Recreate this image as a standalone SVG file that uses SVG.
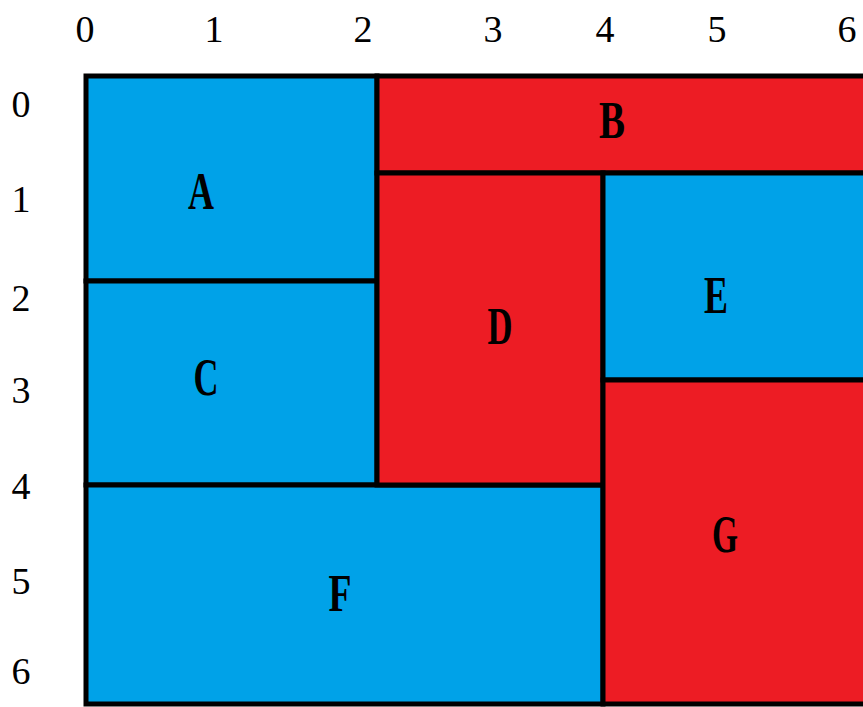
<svg xmlns="http://www.w3.org/2000/svg" width="863" height="707" viewBox="0 0 863 707">
<style>
.blue{fill:#00A2E8;stroke:#000;stroke-width:5}
.red{fill:#ED1C24;stroke:#000;stroke-width:5}
.lbl{font-weight:bold;font-size:53px;fill:#000;text-anchor:middle}
.ax{font-size:38px;fill:#000;text-anchor:middle}
</style>
<rect width="863" height="707" fill="#fff"/>
<g font-family="'Liberation Serif', 'DejaVu Serif', serif">
<g id="axis-top">
<text class="ax" x="85" y="42">0</text>
<text class="ax" x="214" y="42">1</text>
<text class="ax" x="363" y="42">2</text>
<text class="ax" x="493" y="42">3</text>
<text class="ax" x="605" y="42">4</text>
<text class="ax" x="717" y="42">5</text>
<text class="ax" x="847" y="42">6</text>
</g>
<g id="axis-left">
<text class="ax" x="21" y="117">0</text>
<text class="ax" x="21" y="212">1</text>
<text class="ax" x="21" y="311">2</text>
<text class="ax" x="21" y="403">3</text>
<text class="ax" x="21" y="499">4</text>
<text class="ax" x="21" y="594">5</text>
<text class="ax" x="21" y="684">6</text>
</g>
<g id="A"><rect class="blue" x="86" y="76" width="291" height="205"/><text class="lbl" x="201" y="209" textLength="26" lengthAdjust="spacingAndGlyphs">A</text></g>
<g id="C"><rect class="blue" x="86" y="281" width="291" height="204"/><text class="lbl" x="206" y="395" textLength="25" lengthAdjust="spacingAndGlyphs">C</text></g>
<g id="F"><rect class="blue" x="86" y="485" width="517" height="219"/><text class="lbl" x="340" y="611" textLength="23" lengthAdjust="spacingAndGlyphs">F</text></g>
<g id="B"><rect class="red" x="377" y="76" width="490" height="97"/><text class="lbl" x="612" y="138" textLength="26" lengthAdjust="spacingAndGlyphs">B</text></g>
<g id="D"><rect class="red" x="377" y="173" width="226" height="312"/><text class="lbl" x="500" y="344" textLength="25" lengthAdjust="spacingAndGlyphs">D</text></g>
<g id="E"><rect class="blue" x="603" y="173" width="264" height="207"/><text class="lbl" x="716" y="313" textLength="24" lengthAdjust="spacingAndGlyphs">E</text></g>
<g id="G"><rect class="red" x="603" y="380" width="264" height="324"/><text class="lbl" x="725" y="552" textLength="26" lengthAdjust="spacingAndGlyphs">G</text></g>
</g>
<g id="connectors"></g>
</svg>
